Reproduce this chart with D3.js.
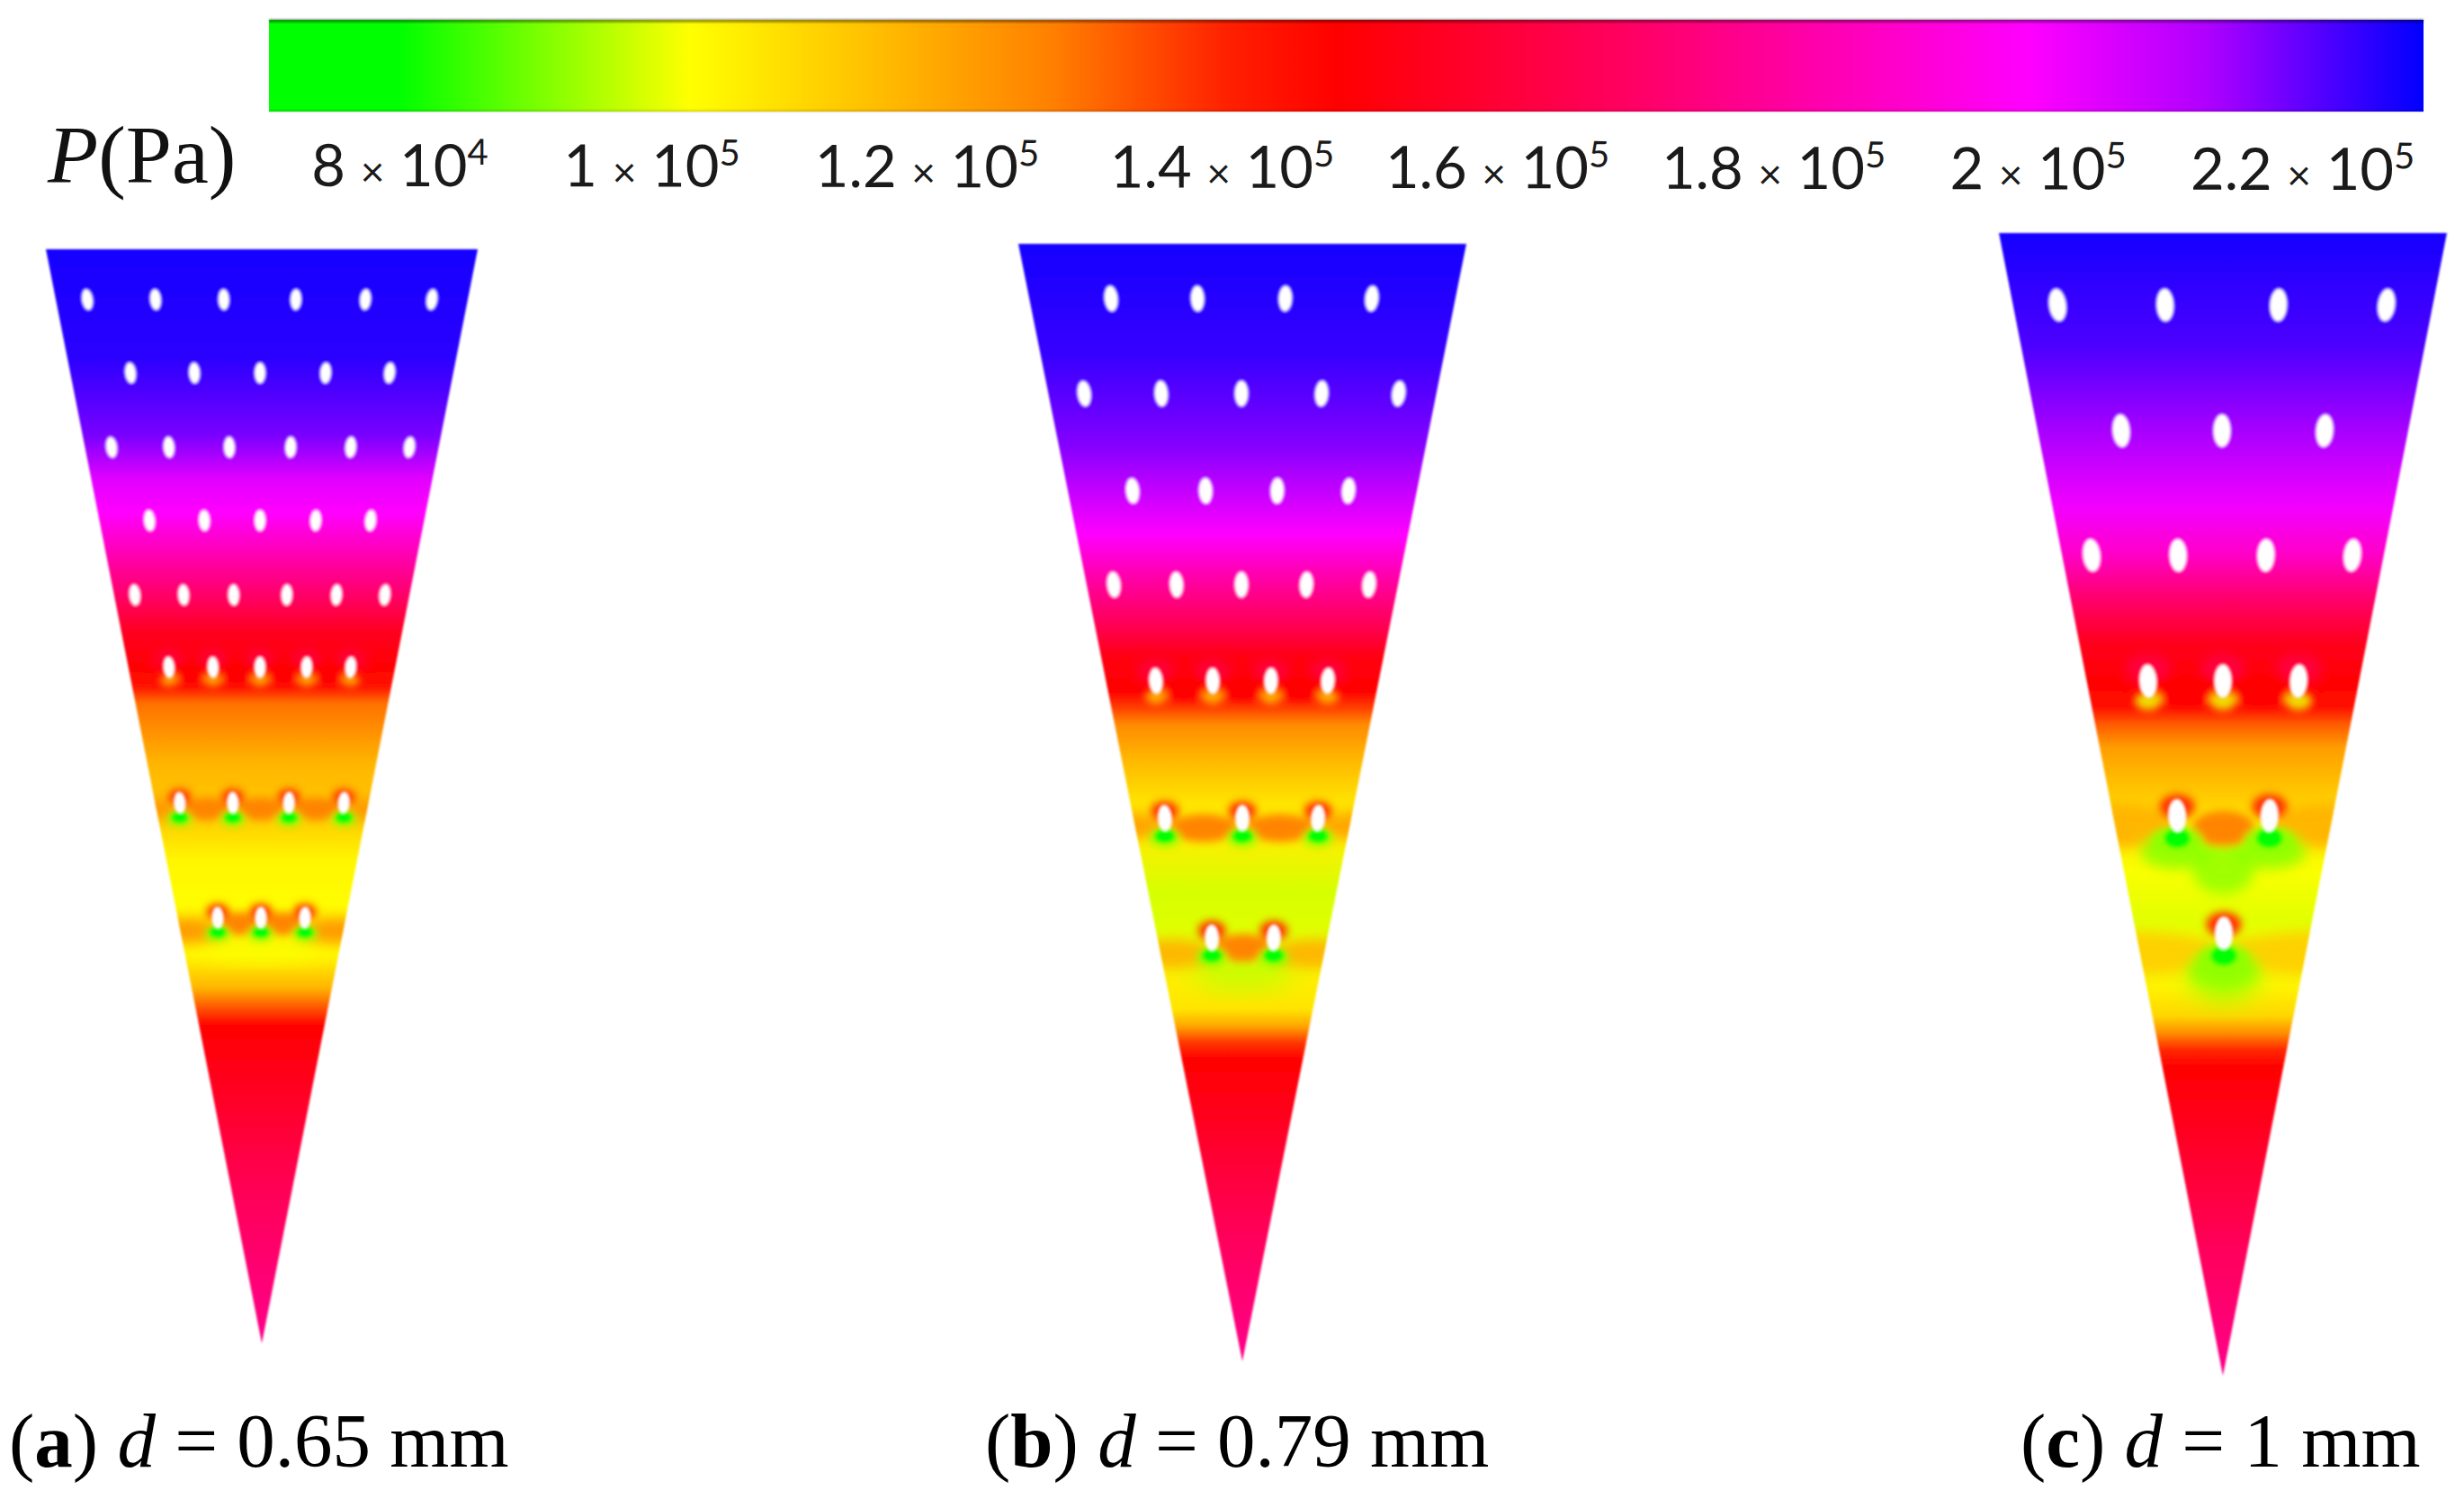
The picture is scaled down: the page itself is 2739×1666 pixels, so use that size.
<!DOCTYPE html>
<html><head><meta charset="utf-8">
<script src="https://cdn.jsdelivr.net/npm/d3@7/dist/d3.min.js"></script>
<style>html,body{margin:0;background:#fff}svg{display:block}</style></head>
<body><svg id="c" width="2739" height="1666"></svg>
<script>
// colour map: pressure (kPa) -> colour
const colorPressure=[70,80,101.4,128,141,149,170,200,213,229];
const colorValues=["#00ff00","#00ff00","#ffff00","#ff8000","#ff2000","#ff0000","#ff0060","#ff00ff","#b000ff","#0000ff"];
const tickValues=[80,100,120,140,160,180,200,220];
const tickMantissa=["8","1","1.2","1.4","1.6","1.8","2","2.2"];
const tickExponent=["4","5","5","5","5","5","5","5"];
const tickNudge=[0,-22,-18,8,12,17,9,1];
const panelDiameters=[0.65,0.79,1];
const panelLetters=["a","b","c"];
const panelValues=["0.65","0.79","1"];
// vertical pressure profile: % of wedge length, pressure kPa
const depthA=[0,10,17,21,24,28,32,35,38,40,41.5,47,52,56,60,62,64.5,67.5,69.5,71,78,86,100];
const kpaA=[227,225,218,205,200,185,170,156,150,144,130,117,112,103,102,108,103,117,135,149,158,168,178];
const depthB=[0,10,18,22,26,30,34,37,40,41.5,43,46,50,53,58,62,66,68.5,70,71.5,73,80,88,100];
const kpaB=[227,224,217,210,200,183,168,153,149,137,126,117,107,105,98,99,105,107,120,138,149,158,168,178];
const depthC=[0,10,18,24,28,32,36,39,41.5,43,45,49,52,56,60,63,66,68.5,70,71.5,73,80,88,100];
const kpaC=[227,222,213,202,190,172,155,150,145,133,122,113,106,101,99,100,104,110,125,140,149,158,168,178];
// hole rows: depth (% of wedge length) and lateral offsets (% of half-width x 0.5)
const rowDepthA=[4.6,11.3,18.1,24.8,31.6,38.2,50.6,61.1];
const rowHolesA=[[-40.4,-24.6,-8.8,7.9,24,39.4],[-30.4,-15.6,-0.4,14.8,29.6],[-34.8,-21.5,-7.5,6.7,20.6,34.2],[-26,-13.3,-0.4,12.5,25.2],[-29.4,-18.1,-6.5,5.8,17.3,28.5],[-21.5,-11.3,-0.4,10.4,20.6],[-19,-6.7,6.3,19],[-10.2,-0.2,10]];
const rowDepthB=[4.9,13.4,22.1,30.5,39.1,51.4,62.1];
const rowHolesB=[[-29.3,-10,9.6,28.9],[-35.3,-18.1,-0.2,17.7,34.9],[-24.5,-8.2,7.8,23.7],[-28.7,-14.7,-0.2,14.3,28.3],[-19.3,-6.6,6.4,19.1],[-17.3,0,16.9],[-6.8,7]];
const rowDepthC=[6.3,17.3,28.2,39.2,51,61.3];
const rowHolesC=[[-36.9,-12.9,12.4,36.5],[-22.7,-0.2,22.7],[-29.3,-10,9.6,28.9],[-16.7,0,16.9],[-10.2,10.4],[0.2]];
const panelDepths=[depthA,depthB,depthC], panelKpa=[kpaA,kpaB,kpaC];
const panelRowDepth=[rowDepthA,rowDepthB,rowDepthC], panelRowHoles=[rowHolesA,rowHolesB,rowHolesC];

const frames=[{l:51,r:531,t:277,b:1493,labelX:10},{l:1132,r:1630,t:271,b:1513,labelX:1095},{l:2222,r:2720,t:259,b:1529,labelX:2246}];
const svg=d3.select("#c"), defs=svg.append("defs");
svg.append("rect").attr("width",2739).attr("height",1666).attr("fill","#fff");
[["soft",0.9],["b2",2.2],["b4",4],["b7",7],["b14",14]].forEach(([id,s])=>{
  defs.append("filter").attr("id",id).attr("x","-40%").attr("y","-40%").attr("width","180%").attr("height","180%")
   .append("feGaussianBlur").attr("stdDeviation",s);
});
const color=d3.scaleLinear().domain(colorPressure).range(colorValues).clamp(true);
const px=d3.scaleLinear().domain([70.4,229]).range([299,2694]);

// colour bar
const barGrad=defs.append("linearGradient").attr("id","bar").attr("x1",0).attr("x2",1).attr("y1",0).attr("y2",0);
const barStops=colorPressure.map(p=>Math.max(p,70.4));
barStops.forEach((p,i)=>barGrad.append("stop").attr("offset",(px(p)-299)/(2694-299)).attr("stop-color",colorValues[i]));
const bar=svg.append("g");
bar.append("rect").attr("x",px.range()[0]).attr("y",22).attr("width",px.range()[1]-px.range()[0]).attr("height",102).attr("fill","url(#bar)");
bar.append("rect").attr("x",px.range()[0]).attr("y",21).attr("width",px.range()[1]-px.range()[0]).attr("height",4).attr("fill","#000").attr("opacity",0.38).attr("filter","url(#soft)");
bar.append("rect").attr("x",px.range()[0]).attr("y",122).attr("width",px.range()[1]-px.range()[0]).attr("height",3).attr("fill","#000").attr("opacity",0.12).attr("filter","url(#soft)");

// tick labels
const axisG=svg.append("g").attr("transform","translate(0,209) rotate(0.11 1500 0)");
axisG.call(d3.axisBottom(px).tickValues(tickValues).tickSize(0));
axisG.select(".domain").remove();
axisG.selectAll(".tick").each(function(d,i){
  const t=d3.select(this).select("text").text(null).attr("y",0).attr("dy",0).attr("x",tickNudge[i])
    .attr("text-anchor","middle").attr("font-family","Lato").attr("font-size",65).attr("fill","#1a1a1a");
  t.append("tspan").text(tickMantissa[i]+" ");
  t.append("tspan").text("×").attr("font-size",46);
  t.append("tspan").text(" 10");
  t.append("tspan").text(tickExponent[i]).attr("font-size",40).attr("dy",-24);
});
svg.append("text").attr("x",53).attr("y",203).attr("font-family","Liberation Serif").attr("font-size",92).attr("fill","#111")
 .call(t=>{t.append("tspan").attr("font-style","italic").text("P");t.append("tspan").text("(Pa)");});

// wedges
panelDiameters.forEach((dia,pi)=>{
  const f=frames[pi];
  const x=d3.scaleLinear().domain([-50,50]).range([f.l,f.r]);
  const y=d3.scaleLinear().domain([0,100]).range([f.t,f.b]);
  const rx=d3.scaleLinear().domain([0,1]).range([0,9.8])(dia);
  const ry=d3.scaleLinear().domain([0,1]).range([0,18.5])(dia);
  const gid="prof"+pi, cid="clip"+pi;
  const g0=defs.append("linearGradient").attr("id",gid).attr("x1",0).attr("x2",0).attr("y1",0).attr("y2",1);
  panelDepths[pi].forEach((d,i)=>g0.append("stop").attr("offset",d/100).attr("stop-color",color(panelKpa[pi][i])));
  const outline=d3.line().x(d=>x(d[0])).y(d=>y(d[1]));
  const shape=outline([[-50,0],[50,0],[0,100]])+"Z";
  defs.append("clipPath").attr("id",cid).append("path").attr("d",shape);
  const outer=svg.append("g").attr("filter","url(#soft)");
  outer.append("path").attr("d",shape).attr("fill","url(#"+gid+")");
  const inner=outer.append("g").attr("clip-path","url(#"+cid+")");
  const nRows=panelRowDepth[pi].length;
  const blot=(layer,cx,cy,a,b,kpa,op)=>layer.append("ellipse").attr("cx",cx).attr("cy",cy).attr("rx",a).attr("ry",b).attr("fill",color(kpa)).attr("opacity",op==null?1:op);
  const vast=inner.append("g").attr("filter","url(#b14)");
  const wide=inner.append("g").attr("filter","url(#b7)");
  const mid=inner.append("g").attr("filter","url(#b4)");
  const core=inner.append("g").attr("filter","url(#b2)");
  panelRowDepth[pi].forEach((dp,ri)=>{
    const cy=y(dp), holes=panelRowHoles[pi][ri].map(v=>x(v));
    const fromEnd=nRows-ri; // 1 = lowest row
    const gap=holes.length>1?holes[1]-holes[0]:(f.r-f.l)*0.2;
    const first=holes[0], last=holes[holes.length-1], centre=(first+last)/2;
    if(fromEnd===3){ // jet row at the edge of the red band
      for(let i=0;i<holes.length-1;i++) blot(mid,(holes[i]+holes[i+1])/2,cy+ry*0.7,gap*0.42,ry*0.8,149);
      holes.forEach(h=>{
        blot(wide,h,cy-ry*0.7,rx*2.6,ry*0.9,168,0.7);
        blot(mid,h,cy+ry*1.2,rx*1.5,ry*0.55,pi===2?100:112,0.85);
      });
    } else if(fromEnd<=2){ // wake rows
      const lastRow=fromEnd===1;
      // side arms of the disturbed band
      const armA=pi===0?gap*0.8:pi===1?gap*0.7:(lastRow?gap*1.25:gap*0.7);
      const armKpa=pi===0?124:pi===1?(lastRow?118:122):(lastRow?112:118);
      [first-armA*0.95,last+armA*0.95].forEach(sx=>blot(wide,sx,cy+ry*(lastRow?1.2:0.6),armA,ry*(pi===2?1.35:1.1),armKpa,0.9));
      // low-pressure plume below the holes
      if(lastRow) blot(vast,centre,cy+ry*2.7,(last-first)/2+rx*(pi===2?4:3),ry*(pi===2?1.4:1.2),pi===0?101:(pi===1?96:94),0.95);
      if(pi===2&&!lastRow) blot(wide,centre,cy+ry*3.2,gap*0.34,ry*1.5,92,0.85);
      for(let i=0;i<holes.length-1;i++)
        blot(mid,(holes[i]+holes[i+1])/2,cy+ry*(pi===0?0.55:0.75),gap*(pi===2?0.34:0.44),ry*1.05,127);
      holes.forEach(h=>{
        blot(mid,h,cy-ry*0.55,rx*2,ry*0.75,138);
        if(pi===2) blot(wide,h,cy+ry*2.1,rx*4.2,ry*1.1,92,0.9);
        blot(mid,h,cy+ry*1.5,rx*(pi===2?2.9:2.2),ry*(pi===2?0.85:0.7),92);
        blot(core,h,cy+ry*1.34,rx*1.4,ry*(pi===2?0.55:0.48),80);
      });
    }
  });
  // holes
  const holeG=inner.append("g").attr("filter","url(#soft)");
  panelRowDepth[pi].forEach((dp,ri)=>{
    const holes=panelRowHoles[pi][ri];
    holeG.selectAll(null).data(holes).enter().append("ellipse")
      .attr("cx",d=>x(d)).attr("cy",y(dp)).attr("rx",rx).attr("ry",ry).attr("fill","#fff")
      .attr("transform",d=>"rotate("+(d*0.2)+" "+x(d)+" "+y(dp)+")");
  });
  // caption
  const t=svg.append("text").attr("x",f.labelX).attr("y",1630).attr("font-family","Liberation Serif").attr("font-size",85).attr("fill","#000");
  t.append("tspan").text("(");
  t.append("tspan").attr("font-weight","bold").text(panelLetters[pi]);
  t.append("tspan").text(") ");
  t.append("tspan").attr("font-style","italic").text("d");
  t.append("tspan").text(" = "+panelValues[pi]+" mm");
});
</script></body></html>
